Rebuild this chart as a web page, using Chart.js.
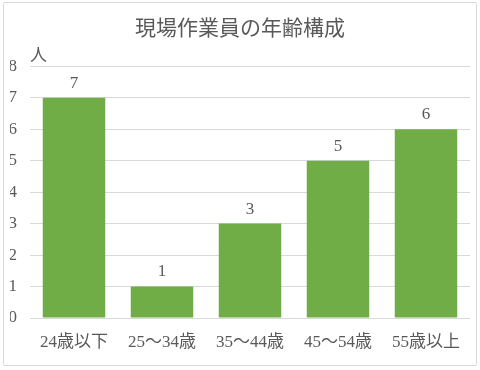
<!DOCTYPE html>
<html>
<head>
<meta charset="utf-8">
<script src="https://cdn.jsdelivr.net/npm/chart.js@4"></script>
<style>
  body { margin: 0; background: #fff; }
  #wrap { position: relative; width: 480px; height: 370px; }
  #frame { position: absolute; left: 3px; top: 2px; width: 472px; height: 362px; border: 1px solid #d9d9d9; border-radius: 2px; }
  canvas { position: absolute; left: 0; top: 0; }
</style>
</head>
<body>
<div id="wrap">
  <div id="frame"></div>
  <canvas id="chart" width="480" height="370"></canvas>
</div>
<script>
var title = '現場作業員の年齢構成';
var unit = '人';
var labels = ['24歳以下', '25～34歳', '35～44歳', '45～54歳', '55歳以上'];
var values = [7, 1, 3, 5, 6];

var textColor = '#595959';
var fontFamily = "'Liberation Serif', 'Noto Sans CJK JP', serif";

// value labels above the bars + the unit label at the top of the y axis
var extraText = {
    id: 'extraText',
    afterDatasetsDraw: function(chart){
        var ctx = chart.ctx;
        ctx.save();
        ctx.fillStyle = textColor;
        ctx.textAlign = 'center';
        ctx.textBaseline = 'bottom';
        ctx.font = '17px ' + fontFamily;
        chart.getDatasetMeta(0).data.forEach(function(bar, i){
            ctx.fillText(values[i], bar.x, bar.y - 6);
        });
        ctx.textAlign = 'left';
        ctx.textBaseline = 'middle';
        ctx.fillText(unit, chart.chartArea.left, chart.chartArea.top - 10);
        ctx.restore();
    }
};

new Chart(document.getElementById('chart'), {
    type: 'bar',
    data: {
        labels: labels,
        datasets: [{
            data: values,
            backgroundColor: '#70ad47',
            categoryPercentage: 1,
            barPercentage: 0.71
        }]
    },
    options: {
        responsive: false,
        animation: false,
        layout: { padding: { left: 10, right: 10, top: 0, bottom: 0 } },
        plugins: {
            legend: { display: false },
            tooltip: { enabled: false },
            title: {
                display: true,
                text: title,
                color: textColor,
                font: { family: fontFamily, size: 21, weight: 'normal' },
                padding: { top: 17, bottom: 24 }
            }
        },
        scales: {
            x: {
                afterFit: function(scale){ scale.height = 52; },
                grid: { display: false },
                border: { display: false },
                ticks: {
                    color: textColor,
                    padding: 6,
                    maxRotation: 0,
                    font: { family: fontFamily, size: 17 }
                }
            },
            y: {
                min: 0,
                max: 8,
                afterFit: function(scale){ scale.width = 20; },
                grid: { color: '#d9d9d9', drawTicks: false },
                border: { display: false },
                ticks: {
                    stepSize: 1,
                    color: textColor,
                    padding: 13,
                    font: { family: fontFamily, size: 17 }
                }
            }
        }
    },
    plugins: [extraText]
});
</script>
</body>
</html>
